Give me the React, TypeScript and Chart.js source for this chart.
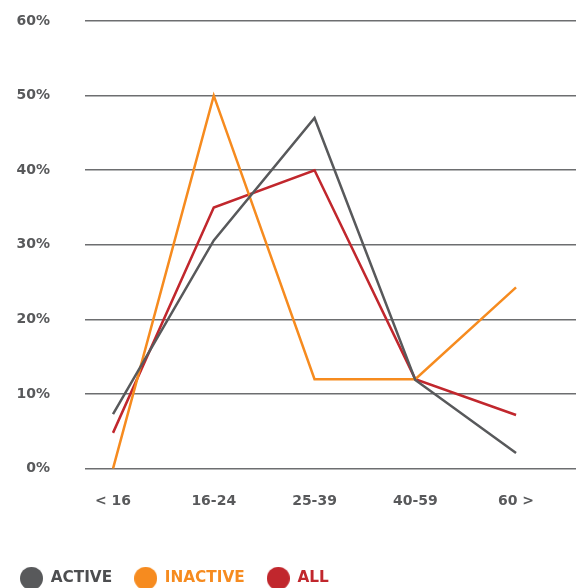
import React, { useEffect, useRef } from "react";
import { Chart, registerables } from "chart.js";

Chart.register(...registerables);

const categories = ["< 16", "16-24", "25-39", "40-59", "60 >"];
const activeValues = [7.3, 30.6, 47.0, 11.9, 2.1];
const inactiveValues = [0, 50, 12, 12, 24.3];
const allValues = [4.8, 35.0, 40.0, 12.0, 7.2];
const seriesNames = ["ACTIVE", "INACTIVE", "ALL"];
const yTicks = [0, 10, 20, 30, 40, 50, 60];

const GRAY = "#58595b";
const ORANGE = "#f68b1f";
const RED = "#c1272d";
const FONT = "'DejaVu Sans', sans-serif";

function dot(color: string) {
  const c = document.createElement("canvas");
  c.width = 23;
  c.height = 23;
  const g = c.getContext("2d")!;
  g.fillStyle = color;
  g.beginPath();
  g.arc(11.5, 11.5, 11.5, 0, Math.PI * 2);
  g.fill();
  return c;
}

export default function App() {
  const ref = useRef<HTMLCanvasElement | null>(null);
  useEffect(() => {
    if (!ref.current) return;
    const toPts = (arr: number[]) => arr.map((v, i) => ({ x: i, y: v }));
    const colors = [GRAY, ORANGE, RED];
    const dots = colors.map(dot);
    const chart = new Chart(ref.current, {
      type: "line",
      data: {
        datasets: [activeValues, inactiveValues, allValues].map((arr, i) => ({
          label: seriesNames[i],
          data: toPts(arr),
          borderColor: colors[i],
          backgroundColor: colors[i],
          borderWidth: 2.5,
          pointRadius: 0,
          tension: 0,
          fill: false,
        })),
      },
      options: {
        animation: false,
        responsive: false,
        maintainAspectRatio: false,
        layout: { padding: { top: 21, right: 8, left: -2, bottom: 0 } },
        plugins: {
          tooltip: { enabled: false },
          legend: {
            position: "bottom",
            align: "start",
            labels: {
              usePointStyle: true,
              pointStyleWidth: 23,
              boxHeight: 15,
              padding: 22,
              font: { family: FONT, size: 15.3, weight: "bold" },
              generateLabels: (c: any) =>
                c.data.datasets.map((d: any, i: number) => ({
                  text: d.label,
                  fillStyle: colors[i],
                  strokeStyle: colors[i],
                  lineWidth: 0,
                  pointStyle: dots[i],
                  fontColor: colors[i] === GRAY ? "#4d4e50" : colors[i],
                  datasetIndex: i,
                  hidden: false,
                })),
            },
          },
        },
        scales: {
          x: {
            type: "linear",
            min: -0.278,
            max: 4.595,
            grid: { display: false, drawTicks: false },
            border: { display: false },
            afterFit: (s: any) => {
              s.height = 80;
            },
            afterBuildTicks: (s: any) => {
              s.ticks = categories.map((_, i) => ({ value: i }));
            },
            ticks: {
              padding: 24.5,
              color: GRAY,
              font: { family: FONT, size: 14, weight: "bold" },
              callback: (v: any) => categories[Math.round(Number(v))] ?? "",
              maxRotation: 0,
              autoSkip: false,
            },
          },
          y: {
            min: 0,
            max: 60,
            afterFit: (s: any) => {
              s.width = 87;
              s.paddingTop = 8;
              s.paddingBottom = 8;
            },
            afterBuildTicks: (s: any) => {
              s.ticks = yTicks.map((v) => ({ value: v }));
            },
            grid: { color: "#6d6e70", lineWidth: 1.5, drawTicks: false },
            border: { display: false },
            ticks: {
              padding: 35,
              color: GRAY,
              font: { family: FONT, size: 14, weight: "bold" },
              callback: (v: any) => v + "%",
            },
          },
        },
      },
    } as any);
    return () => chart.destroy();
  }, []);
  return (
    <div style={{ position: "fixed", left: 0, top: 0, width: 584, height: 588, overflow: "hidden", background: "#fff" }}>
      <canvas ref={ref} width={584} height={596} style={{ width: 584, height: 596, display: "block" }} />
    </div>
  );
}
